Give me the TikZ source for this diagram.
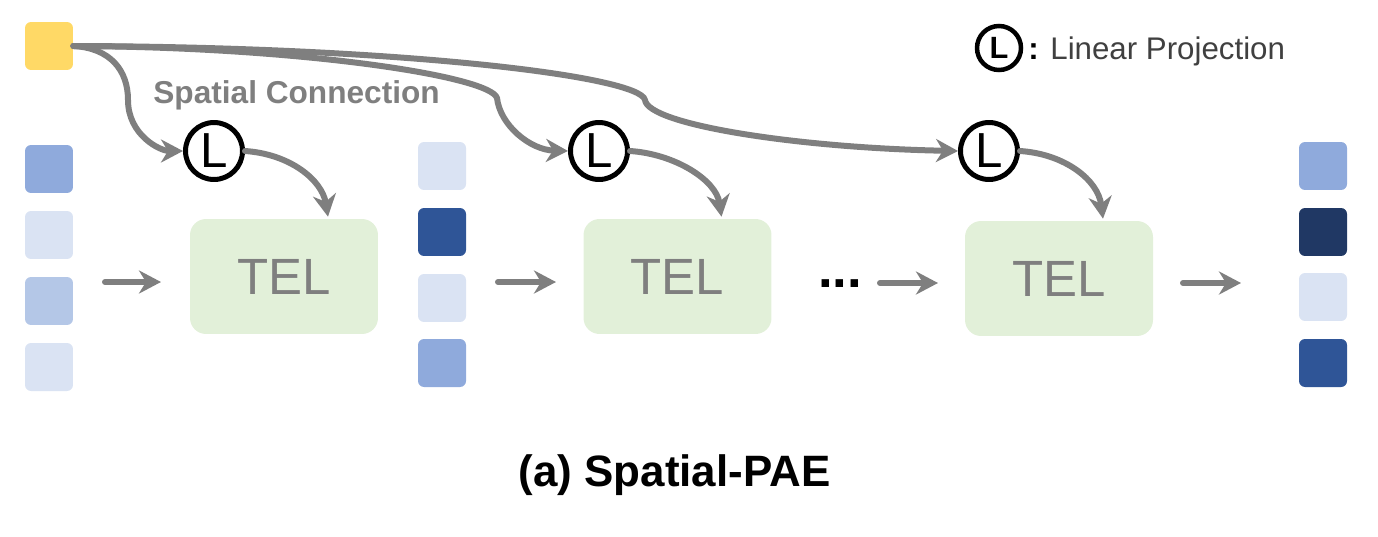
\documentclass[tikz,border=0pt]{standalone}
\usepackage{fontspec}
\setmainfont{Liberation Sans}
\usetikzlibrary{arrows.meta,calc}
\definecolor{cgray}{HTML}{7F7F7F}
\definecolor{cyel}{HTML}{FFD966}
\definecolor{cb1}{HTML}{DAE3F3}
\definecolor{cb2}{HTML}{B4C7E7}
\definecolor{cb3}{HTML}{8FAADC}
\definecolor{cb4}{HTML}{2F5597}
\definecolor{cb5}{HTML}{203864}
\definecolor{cgreen}{HTML}{E2F0D9}
\definecolor{ctext}{HTML}{404040}
\begin{document}
\begin{tikzpicture}[x=0.02cm,y=-0.02cm,
  sq/.style={rounded corners=0.12cm, minimum size=0.96cm, inner sep=0pt, fill=#1},
  tel/.style={fill=cgreen, rounded corners=0.32cm, minimum width=3.76cm, minimum height=2.3cm, inner sep=0pt, text=cgray, font=\fontsize{29}{29}\selectfont},
  lin/.style={circle, draw=black, line width=0.1cm, minimum size=1.14cm, inner sep=0pt, font=\fontsize{28}{28}\selectfont},
  conn/.style={draw=cgray, line width=0.12cm, line cap=round, -{Stealth[length=0.44cm,width=0.46cm,inset=0.14cm]}}
]
\useasboundingbox (0,0) rectangle (1378,537);
% input token
\node[sq=cyel] (y) at (49,46) {};
% left column
\node[sq=cb3] (a1) at (49,169) {};
\node[sq=cb1] (a2) at (49,235) {};
\node[sq=cb2] (a3) at (49,301) {};
\node[sq=cb1] (a4) at (49,367) {};
% middle column
\node[sq=cb1] (b1) at (442,166) {};
\node[sq=cb4] (b2) at (442,232) {};
\node[sq=cb1] (b3) at (442,298) {};
\node[sq=cb3] (b4) at (442,363) {};
% right column
\node[sq=cb3] (c1) at (1323,166) {};
\node[sq=cb5] (c2) at (1323,232) {};
\node[sq=cb1] (c3) at (1323,297) {};
\node[sq=cb4] (c4) at (1323,363) {};
% TEL boxes
\node[tel] (T1) at (284,276.5) {TEL};
\node[tel] (T2) at (677.5,276.5) {TEL};
\node[tel] (T3) at (1059,278.5) {TEL};
% linear projections
\node[lin] (L1) at (214,151) {L};
\node[lin] (L2) at (599,151) {L};
\node[lin] (L3) at (989,151) {L};
% legend
\node[circle, draw=black, line width=0.09cm, minimum size=0.88cm, inner sep=0pt, font=\bfseries\fontsize{17.5}{17.5}\selectfont] (LL) at (999,48) {L};
\node[anchor=base west, inner sep=0pt, text=ctext, font=\fontsize{17.8}{17.8}\selectfont] (legtxt) at (1028,60) {{\bfseries\color{black}:} Linear Projection};
% labels
\node[anchor=base west, inner sep=0pt, text=cgray, font=\bfseries\fontsize{18}{18}\selectfont] (sc) at (153,104) {Spatial Connection};
\node[anchor=base, inner sep=0pt, font=\bfseries\fontsize{25}{25}\selectfont] (title) at (674.5,486) {(a) Spatial-PAE};
\node[anchor=base, inner sep=0pt, font=\bfseries\fontsize{30}{30}\selectfont] (dots) at (840,287) {...};
% horizontal arrows
\coordinate (h1s) at (105,282); \coordinate (h1e) at (161,282);
\coordinate (h2s) at (498,282); \coordinate (h2e) at (556,282);
\coordinate (h3s) at (880,283); \coordinate (h3e) at (938,283);
\coordinate (h4s) at (1183,283); \coordinate (h4e) at (1241,283);
\draw[conn] (h1s) -- (h1e);
\draw[conn] (h2s) -- (h2e);
\draw[conn] (h3s) -- (h3e);
\draw[conn] (h4s) -- (h4e);
% spatial connections
\draw[conn] (y.east) .. controls (110,48) and (128,70) .. (128,100)
  .. controls (128,135) and (160,151) .. (L1.west);
\draw[conn] (y.east) .. controls (300,47) and (490,76) .. (497,98)
  .. controls (500,125) and (530,150) .. (L2.west);
\draw[conn] (y.east) .. controls (400,47) and (640,76) .. (645,100)
  .. controls (648,125) and (800,148) .. (L3.west);
% projections into TEL
\draw[conn] (L1.east) .. controls (290,154) and (322,180) .. ($(T1.north)+(44,-2)$);
\draw[conn] (L2.east) .. controls (675,154) and (716,180) .. ($(T2.north)+(44,-2)$);
\draw[conn] (L3.east) .. controls (1065,154) and (1098,180) .. ($(T3.north)+(44,-2)$);
\end{tikzpicture}
\end{document}
